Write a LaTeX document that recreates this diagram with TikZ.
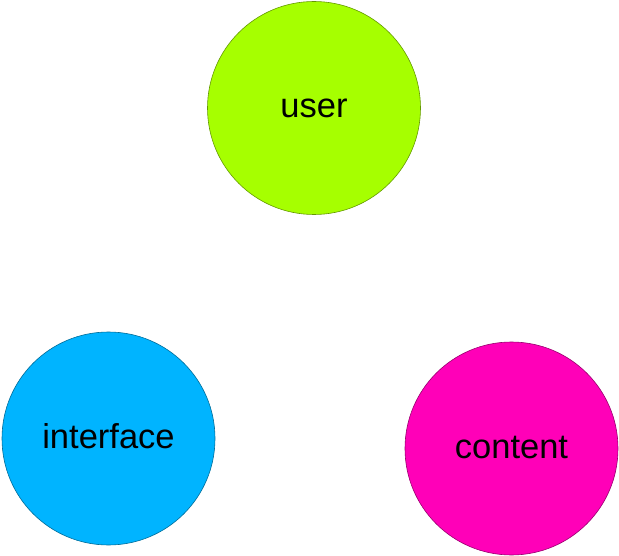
\documentclass[tikz,border=0pt]{standalone}
\usepackage{fontspec}
\setmainfont{Liberation Sans}
\definecolor{ugreen}{HTML}{A6FF00}
\definecolor{ublue}{HTML}{00B4FF}
\definecolor{upink}{HTML}{FF00B8}
\tikzset{
  blob/.style={circle, minimum size=213pt, inner sep=0pt, draw=#1!60!black, line width=0.6pt, fill=#1,
    text height=19pt, text depth=0pt, font=\fontsize{34.5}{40}\selectfont}
}
\begin{document}
\begin{tikzpicture}[x=1pt,y=-1pt]
\useasboundingbox (0,0) rectangle (619,556);
\node[blob=ugreen] (user) at (314,108) {user};
\node[blob=ublue] (interface) at (108.5,438.5) {interface};
\node[blob=upink] (content) at (511.5,448.5) {content};
\end{tikzpicture}
\end{document}
